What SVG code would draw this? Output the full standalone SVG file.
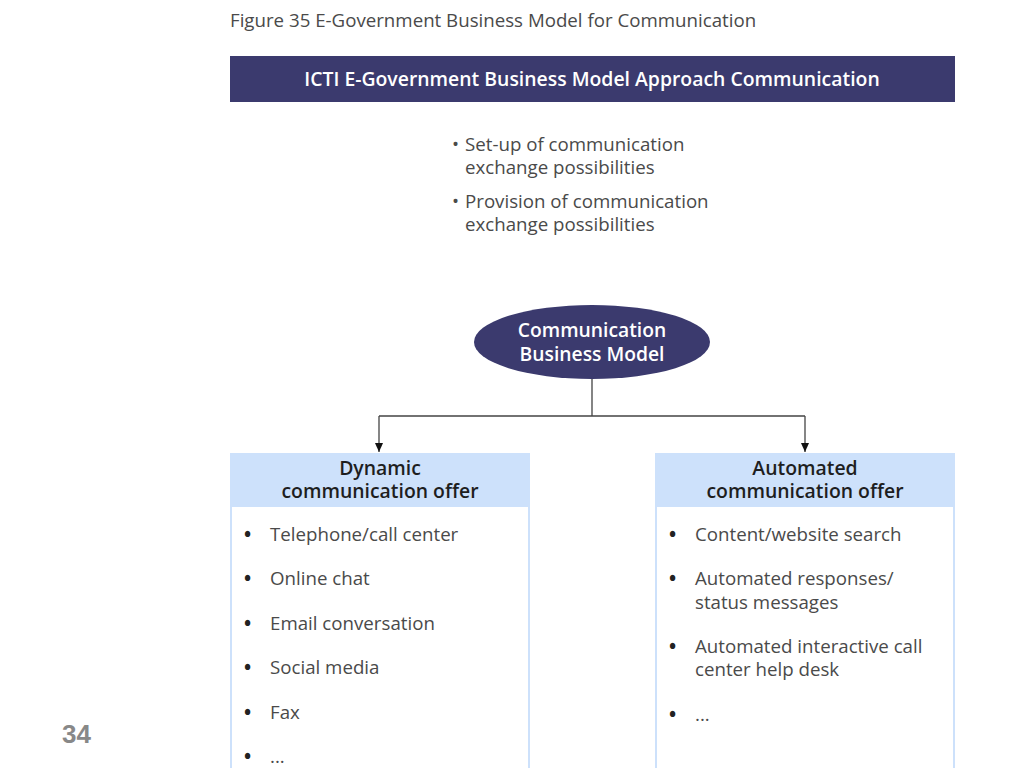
<svg xmlns="http://www.w3.org/2000/svg" width="1024" height="768" viewBox="0 0 1024 768">
<style>
text{font-family:"Open Sans","Noto Sans","Liberation Sans",sans-serif}
.t{font-size:18.7px;font-weight:400;fill:#4a4a4a}
.b{font-size:19px;font-weight:700;fill:#222}
.h{font-size:19.4px;font-weight:600;fill:#1e1e1e;text-anchor:middle}
.w{font-size:19.3px;font-weight:600;fill:#fff;text-anchor:middle}
.c{stroke:#444;stroke-width:1.3;fill:none}
.hd{fill:#cde1fb}
.bd{fill:#fff;stroke:#cde1fb;stroke-width:2}
</style>
<defs>
<marker id="ar" markerWidth="10" markerHeight="10" refX="9" refY="5" orient="auto" markerUnits="userSpaceOnUse">
<path d="M0,1 L9,5 L0,9 Z" fill="#111"/>
</marker>
</defs>
<rect width="1024" height="768" fill="#fff"/>
<text x="230" y="27" class="t">Figure 35 E-Government Business Model for Communication</text>
<g id="banner">
<rect x="230" y="56" width="725" height="46" fill="#3b3a6e"/>
<text x="592" y="86" class="w" style="font-size:19.4px">ICTI E-Government Business Model Approach Communication</text>
</g>
<g id="approach">
<text class="t"><tspan x="452" y="151">• </tspan><tspan x="465" y="151">Set-up of communication</tspan><tspan x="465" y="174">exchange possibilities</tspan></text>
<text class="t"><tspan x="452" y="208">• </tspan><tspan x="465" y="208">Provision of communication</tspan><tspan x="465" y="231">exchange possibilities</tspan></text>
</g>
<g id="connectors">
<path class="c" d="M592,379 V416 M379,416 H805"/>
<path class="c" d="M379,416 V452" marker-end="url(#ar)"/>
<path class="c" d="M805,416 V452" marker-end="url(#ar)"/>
</g>
<g id="model">
<ellipse cx="592" cy="342" rx="118" ry="37" fill="#3b3a6e"/>
<text class="w"><tspan x="592" y="337">Communication</tspan><tspan x="592" y="361">Business Model</tspan></text>
</g>
<g id="dynamic">
<rect x="231" y="454" width="298" height="330" class="bd"/>
<rect x="230" y="453" width="300" height="54" class="hd"/>
<text class="h"><tspan x="380" y="475">Dynamic</tspan><tspan x="380" y="498">communication offer</tspan></text>
<g class="t">
<text x="270" y="541">Telephone/call center</text>
<text x="270" y="585">Online chat</text>
<text x="270" y="630">Email conversation</text>
<text x="270" y="674">Social media</text>
<text x="270" y="719">Fax</text>
<text x="270" y="763">...</text>
</g>
<g class="b">
<text x="244" y="541">•</text>
<text x="244" y="585">•</text>
<text x="244" y="630">•</text>
<text x="244" y="674">•</text>
<text x="244" y="719">•</text>
<text x="244" y="763">•</text>
</g>
</g>
<g id="automated">
<rect x="656" y="454" width="298" height="330" class="bd"/>
<rect x="655" y="453" width="300" height="54" class="hd"/>
<text class="h"><tspan x="805" y="475">Automated</tspan><tspan x="805" y="498">communication offer</tspan></text>
<g class="t">
<text x="695" y="541">Content/website search</text>
<text><tspan x="695" y="585">Automated responses/</tspan><tspan x="695" y="609">status messages</tspan></text>
<text><tspan x="695" y="653">Automated interactive call</tspan><tspan x="695" y="676">center help desk</tspan></text>
<text x="695" y="721">...</text>
</g>
<g class="b">
<text x="669" y="541">•</text>
<text x="669" y="585">•</text>
<text x="669" y="653">•</text>
<text x="669" y="721">•</text>
</g>
</g>
<text x="62" y="743" style="font-family:'Liberation Sans',Arial,sans-serif;font-size:26px;font-weight:bold;fill:#888">34</text>
</svg>
